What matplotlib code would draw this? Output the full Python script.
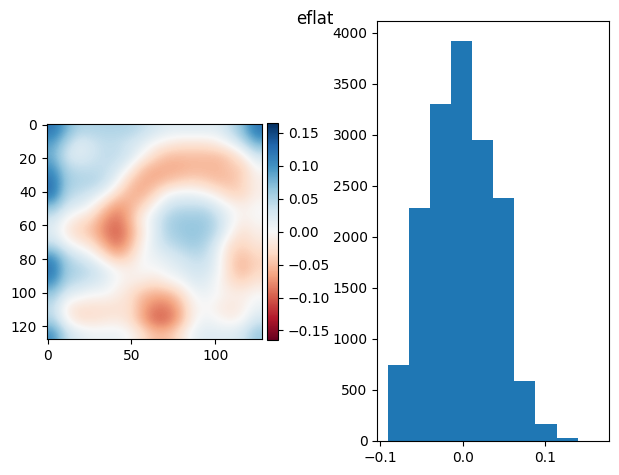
import numpy as np
import matplotlib
matplotlib.use("Agg")
import matplotlib.pyplot as plt

eflat_grid = [
    [0.12, 0.08, 0.05, 0.05, 0.05, 0.05, 0.05, 0.04, 0.03, 0.02, 0.02, 0.02, 0.02, 0.02, 0.04, 0.07, 0.12],
    [0.09, 0.05, 0.02, 0.03, 0.04, 0.04, 0.03, 0.02, 0.0, -0.01, -0.02, -0.02, -0.02, -0.01, 0.01, 0.04, 0.08],
    [0.08, 0.03, 0.02, 0.03, 0.04, 0.04, 0.03, 0.0, -0.03, -0.05, -0.05, -0.05, -0.05, -0.05, -0.04, -0.01, 0.03],
    [0.10, 0.05, 0.04, 0.04, 0.04, 0.03, 0.0, -0.045, -0.06, -0.06, -0.06, -0.055, -0.055, -0.055, -0.045, -0.04, 0.00],
    [0.12, 0.06, 0.05, 0.05, 0.04, 0.01, -0.04, -0.06, -0.06, -0.05, -0.04, -0.035, -0.04, -0.05, -0.05, -0.035, -0.01],
    [0.12, 0.05, 0.04, 0.03, 0.01, -0.03, -0.055, -0.06, -0.035, 0.00, 0.01, 0.01, 0.00, -0.015, -0.035, -0.035, -0.01],
    [0.07, 0.03, 0.02, 0.00, -0.04, -0.07, -0.06, -0.035, 0.00, 0.03, 0.04, 0.04, 0.04, 0.02, 0.00, -0.01, 0.00],
    [0.03, 0.00, -0.02, -0.035, -0.07, -0.09, -0.06, -0.01, 0.02, 0.05, 0.06, 0.06, 0.06, 0.04, 0.01, -0.01, 0.00],
    [0.02, -0.015, -0.035, -0.05, -0.08, -0.10, -0.07, -0.02, 0.02, 0.05, 0.06, 0.065, 0.06, 0.04, 0.00, -0.025, -0.01],
    [0.04, 0.01, -0.01, -0.025, -0.06, -0.09, -0.06, -0.01, 0.02, 0.04, 0.05, 0.06, 0.05, 0.02, -0.025, -0.035, -0.02],
    [0.10, 0.05, 0.03, 0.01, -0.02, -0.05, -0.035, 0.00, 0.01, 0.02, 0.03, 0.04, 0.04, 0.01, -0.035, -0.05, -0.035],
    [0.12, 0.06, 0.05, 0.04, 0.02, 0.00, -0.01, 0.00, 0.00, 0.01, 0.02, 0.03, 0.03, 0.01, -0.035, -0.055, -0.035],
    [0.10, 0.05, 0.04, 0.03, 0.02, 0.00, -0.01, -0.015, -0.025, -0.01, 0.00, 0.02, 0.02, 0.00, -0.025, -0.035, -0.02],
    [0.06, 0.02, 0.01, 0.00, 0.00, -0.01, -0.025, -0.05, -0.06, -0.06, -0.035, 0.00, 0.01, 0.00, -0.01, -0.01, 0.00],
    [0.04, -0.01, -0.025, -0.025, -0.025, -0.025, -0.025, -0.06, -0.085, -0.085, -0.06, -0.01, 0.00, -0.01, -0.02, -0.01, 0.01],
    [0.05, 0.00, -0.025, -0.025, -0.02, -0.015, -0.025, -0.06, -0.095, -0.095, -0.06, -0.01, 0.01, 0.00, -0.01, 0.00, 0.03],
    [0.10, 0.04, 0.02, 0.01, 0.01, 0.01, 0.00, -0.025, -0.05, -0.05, -0.025, 0.01, 0.02, 0.02, 0.02, 0.03, 0.06],
]
vlim = 0.1645

# histogram of the full 128x128 field (10 bins)
hist_lo, hist_hi = -0.0906, 0.1645
hist_counts = [745, 2284, 3304, 3921, 2951, 2379, 588, 170, 29, 2]

fig = plt.figure(figsize=(6.19, 4.75), dpi=100)

ax1 = fig.add_axes([0.0754, 0.2857, 0.3473, 0.4547])
im = ax1.imshow(np.array(eflat_grid), cmap="RdBu", vmin=-vlim, vmax=vlim,
                interpolation="bicubic", extent=(-0.5, 127.5, 127.5, -0.5))

cax = fig.add_axes([0.4318, 0.2842, 0.0178, 0.4562])
fig.colorbar(im, cax=cax)

ax2 = fig.add_axes([0.6095, 0.0716, 0.3748, 0.8848])
edges = np.linspace(hist_lo, hist_hi, len(hist_counts) + 1)
ax2.hist(edges[:-1], bins=edges, weights=hist_counts)

fig.suptitle("eflat", x=0.509)

fig.savefig("out.png", dpi=100)
